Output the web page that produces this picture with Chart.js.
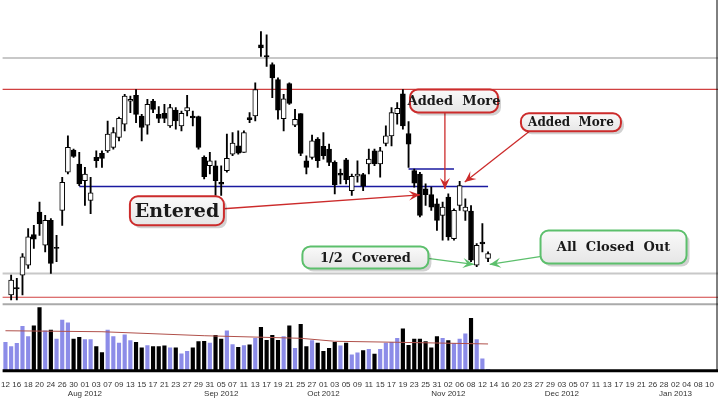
<!DOCTYPE html>
<html><head><meta charset="utf-8">
<script src="https://cdn.jsdelivr.net/npm/chart.js@4/dist/chart.umd.min.js"></script>
<style>html,body{margin:0;padding:0;background:#fff}#w{width:720px;height:400px}</style>
</head><body><div id="w"><canvas id="c"></canvas></div>
<script>
const days = ["12","13","16","17","18","19","20","23","24","25","26","27","30","31",
"01","02","03","06","07","08","09","10","13","14","15","16","17","20","21","22","23","24","27","28","29","30","31",
"04","05","06","07","10","11","12","13","14","17","18","19","20","21","24","25","26","27","28",
"01","02","03","04","05","08","09","10","11","12","15","16","17","18","19","22","23","24","25","26","31",
"01","02","05","06","07","08","09","12","13","14","15","16","19","20","21","23","26","27","28","29","30",
"03","04","05","06","07","10","11","12","13","14","17","18","19","20","21","24","26","27","28","31",
"02","03","04","07","08","09","10","11"];
const monthLabels = {14:"Aug 2012",38:"Sep 2012",56:"Oct 2012",78:"Nov 2012",98:"Dec 2012",118:"Jan 2013"};
const opens  = [null,3.3,10,23.3,33.3,64,86.7,53.3,78.3,51.3,88.3,126.7,149,135,118.3,98.3,141.7,145.7,148.3,151.7,161.7,175,198.3,204,183.3,174,198.3,185,186,173.3,189.3,173.3,188.3,182.7,182.7,141.7,133.3,133.3,116,128.3,145,153.3,146.7,181,183.3,255,244,235,220,180.7,216,174,185.7,138.3,141.7,160,152.7,150,136.7,125,139.3,108.3,122.7,124.3,135,148.3,135,155.7,163.3,185.7,205.7,165.7,128.3,125,110,104.3,95,83.3,101.7,60,93.3,87.7,87.7,33.3,56,40];
const highs  = [null,23.3,20,45,70,73.3,96.7,83.3,80,63.3,121.7,163.3,150,146.7,131.7,121.7,148.3,148.3,178.3,171.7,182.3,205,203.3,210,185,200,200,192.7,195,195,191.7,188.3,204,188.3,183.3,143.3,146.7,138.3,133.3,165,166.7,168.3,168.3,186.7,216.7,268.3,265,236.7,221.7,205,216.7,190,185.7,143.3,164,161.7,166.7,155,138.3,130,140.7,125,138.3,125.7,150,150,151.7,173.3,191.7,196.7,210,177.7,130,126.7,115,111.7,100,96.7,105,90,117.7,100,93.3,55,75,46.7];
const lows   = [null,-1.7,-1.7,3.3,30,50,63.3,46.7,25,36.7,73.3,125,141.7,113.3,93.3,85,131.7,131.7,146.7,150,158.3,168.3,186.7,176.7,158.3,165,186.7,176.7,176.7,171.7,170,168.3,183.3,173.3,150,120,125,103.3,103.3,126.7,143.3,145,146.7,176.7,178.3,243.3,233.3,201.7,180,168.3,195,172.7,143.3,125,140,131.7,140,133.3,105,115,115,103.3,116.7,108.3,125,133.3,121.7,153.3,153.3,175,170,131.7,111.7,81.7,93.3,88.3,68.3,58.3,58.3,58.3,88.3,78.3,36.7,31.7,46.7,36.7];
const closes = [null,18.3,10,41.7,61.7,59.3,75,78.3,35,50,116.7,151.7,142.7,115,125,106,138.3,140.7,165,166.7,181,203.3,200,185,171.7,195,190,181,181,191.7,178.3,186,191.7,182,151.7,122.3,138.3,118.3,115.3,140.7,156,146,166.7,180.3,210,251.7,242.7,221.7,189.3,200.7,196,180,145.7,131.7,158.3,138.3,143.3,136.7,114.3,124.3,119.3,122.7,125,112.7,140,135,148.3,163.3,186.7,191,173.3,155,115.7,83.3,104.3,91.7,78.3,91.7,61.7,88.3,113.3,91.7,38.3,53.3,55.3,45];
const volumes = [28.7,24.3,27.7,44.7,34.3,45.3,63.7,40.3,41,32,51,48.3,32,33.7,31.3,31.3,24.3,18.3,41,34.3,28,36.3,30.3,28.7,23,25.3,24.3,24.3,25,23,23,17,19.7,23,29.3,29.7,28,35.7,32,40.3,26.3,23.7,25.3,26,32.7,43.7,30.7,35.7,30.7,34.3,45.3,22.7,46.7,24.3,30.3,28,19.7,22.7,28.7,25,28,16,18,20.3,21.7,16.7,21.7,28,28.7,32.7,42.3,25.7,32,32,29.3,23,34.3,32.7,30.3,27.7,32,37.3,52.7,31.3,12,1.5];
const volumeUp = [1,1,1,1,1,0,0,1,0,1,1,1,0,0,1,1,0,0,1,1,1,1,1,0,0,1,0,0,0,1,0,1,1,0,0,0,1,0,0,1,1,0,1,0,1,0,0,0,0,1,0,1,0,0,1,0,0,0,0,1,0,1,1,0,1,0,1,1,1,1,0,0,0,0,0,0,0,1,0,1,1,1,0,1,1,1];
const volumeMA = {0:40.3,17:39.3,35:35.3,52:32.7,58:29.7,69:28.7,85:27};
const grayLevels = [241.7,25];
const redLevels = [210,1];
const blueLines = [{from:13,to:85,level:112.3},{from:71,to:79,level:130}];
const notes = [
 {text:"Entered",x:30.2,y:88,w:94,h:29,size:19,color:"#cc2b2b",ax:[38.4,90],at:[73,104]},
 {text:"Added  More",x:79,y:198.5,w:88,h:23,size:13,color:"#cc2b2b",ax:[77.4,187],at:[77.4,110]},
 {text:"Added  More",x:99.6,y:177,w:100,h:18,size:12,color:"#cc2b2b",ax:[92.3,168],at:[80.9,117]},
 {text:"1/2  Covered",x:63.4,y:41,w:126,h:22,size:13,color:"#5cbf6c",ax:[74.4,40],at:[82.5,34]},
 {text:"All  Closed  Out",x:107.1,y:51.5,w:146,h:33,size:13,color:"#5cbf6c",ax:[94.4,42],at:[85.3,34]}
];

const wicks = lows.map((l,i)=> l==null?null:[l,highs[i]]);
const bodies = opens.map((o,i)=>{ if(o==null) return null; let a=Math.min(o,closes[i]),b=Math.max(o,closes[i]); if(b-a<1){b+=0.6;a-=0.6;} return [a,b];});
const bodyColors = opens.map((o,i)=> (o!=null && closes[i]>o+0.8)?"#ffffff":"#000000");
const maData = days.map((d,i)=> volumeMA[i]!==undefined?volumeMA[i]:null);

const overlay = {
 id:'overlay',
 beforeDatasetsDraw(chart){
  const ctx=chart.ctx, x=chart.scales.x, y=chart.scales.y, a=chart.chartArea;
  ctx.save();
  ctx.lineWidth=2; ctx.strokeStyle="#c8c8c8";
  grayLevels.forEach(v=>{const p=y.getPixelForValue(v);ctx.beginPath();ctx.moveTo(a.left,p);ctx.lineTo(a.right,p);ctx.stroke();});
  const sep=y.bottom; ctx.strokeStyle="#aaaaaa"; ctx.beginPath();ctx.moveTo(a.left,sep+1);ctx.lineTo(a.right,sep+1);ctx.stroke();
  ctx.lineWidth=1.2; ctx.strokeStyle="#d04040";
  redLevels.forEach(v=>{const p=y.getPixelForValue(v);ctx.beginPath();ctx.moveTo(a.left,p);ctx.lineTo(a.right,p);ctx.stroke();});
  ctx.lineWidth=1.5; ctx.strokeStyle="#1a1aa0";
  blueLines.forEach(b=>{const p=y.getPixelForValue(b.level);ctx.beginPath();ctx.moveTo(x.getPixelForValue(b.from),p);ctx.lineTo(x.getPixelForValue(b.to),p);ctx.stroke();});
  ctx.restore();
 },
 afterDatasetsDraw(chart){
  const ctx=chart.ctx, x=chart.scales.x, y=chart.scales.y, a=chart.chartArea;
  ctx.save();
  ctx.strokeStyle="#000"; ctx.lineWidth=3;
  ctx.beginPath();ctx.moveTo(a.left,a.bottom);ctx.lineTo(a.right,a.bottom);ctx.stroke();
  ctx.lineWidth=1; ctx.beginPath();ctx.moveTo(a.right-1,a.top);ctx.lineTo(a.right-1,a.bottom);ctx.stroke();
  notes.forEach(n=>{
   const cx=x.getPixelForValue(n.x), cy=y.getPixelForValue(n.y);
   const fx=x.getPixelForValue(n.ax[0]), fy=y.getPixelForValue(n.ax[1]);
   const tx=x.getPixelForValue(n.at[0]), ty=y.getPixelForValue(n.at[1]);
   ctx.strokeStyle=n.color; ctx.fillStyle=n.color; ctx.lineWidth=1.3;
   ctx.beginPath();ctx.moveTo(fx,fy);ctx.lineTo(tx,ty);ctx.stroke();
   const ang=Math.atan2(ty-fy,tx-fx), L=11, W=5;
   ctx.beginPath();ctx.moveTo(tx,ty);
   ctx.lineTo(tx-L*Math.cos(ang)+W*Math.sin(ang),ty-L*Math.sin(ang)-W*Math.cos(ang));
   ctx.lineTo(tx-L*0.6*Math.cos(ang),ty-L*0.6*Math.sin(ang));
   ctx.lineTo(tx-L*Math.cos(ang)-W*Math.sin(ang),ty-L*Math.sin(ang)+W*Math.cos(ang));
   ctx.closePath();ctx.fill();
   const bx=cx-n.w/2, by=cy-n.h/2;
   ctx.fillStyle="rgba(0,0,0,0.18)";
   ctx.beginPath();ctx.roundRect(bx+3,by+3,n.w,n.h,8);ctx.fill();
   const g=ctx.createLinearGradient(0,by,0,by+n.h); g.addColorStop(0,"#fafafa"); g.addColorStop(1,"#e6e6e6");
   ctx.fillStyle=g; ctx.beginPath();ctx.roundRect(bx,by,n.w,n.h,8);ctx.fill();
   ctx.lineWidth=2; ctx.strokeStyle=n.color; ctx.stroke();
   ctx.fillStyle="#1a1a1a"; ctx.font="bold "+n.size+"px 'DejaVu Serif', serif";
   ctx.textAlign="center"; ctx.textBaseline="middle"; ctx.fillText(n.text,cx,cy+1);
  });
  ctx.restore();
 }
};

new Chart(document.getElementById('c'),{
 type:'bar',
 data:{labels:days,datasets:[
  {data:bodies,yAxisID:'y',grouped:false,barThickness:5,backgroundColor:bodyColors,borderColor:"#000",borderWidth:1,borderSkipped:false,order:1},
  {data:wicks,yAxisID:'y',grouped:false,barThickness:1.2,backgroundColor:"#000",order:2},
  {data:volumes,yAxisID:'yv',grouped:false,barThickness:3.5,backgroundColor:volumeUp.map(u=>u?"#8c8ce8":"#000000"),order:3},
  {type:'line',data:maData,yAxisID:'yv',spanGaps:true,borderColor:"#b0504a",borderWidth:1,pointRadius:0,order:0}
 ]},
 options:{responsive:true,maintainAspectRatio:false,animation:false,
  layout:{padding:{top:0,left:0,right:2,bottom:0}},
  plugins:{legend:{display:false},tooltip:{enabled:false}},
  scales:{
   x:{offset:true,grid:{display:false},border:{display:false},
      ticks:{autoSkip:false,maxRotation:0,minRotation:0,padding:1,color:"#333",font:{size:8,family:"'Liberation Sans Narrow','Liberation Sans',sans-serif"},
        callback:(v,i)=> i%2===0 ? (monthLabels[i]?[days[i],monthLabels[i]]:days[i]) : (monthLabels[i]?["",monthLabels[i]]:"")}},
   yv:{stack:'s',stackWeight:68,min:0,max:68,display:false},
   y:{stack:'s',stackWeight:305,min:-5,max:300,display:false}
  }},
 plugins:[overlay]
});
</script></body></html>
